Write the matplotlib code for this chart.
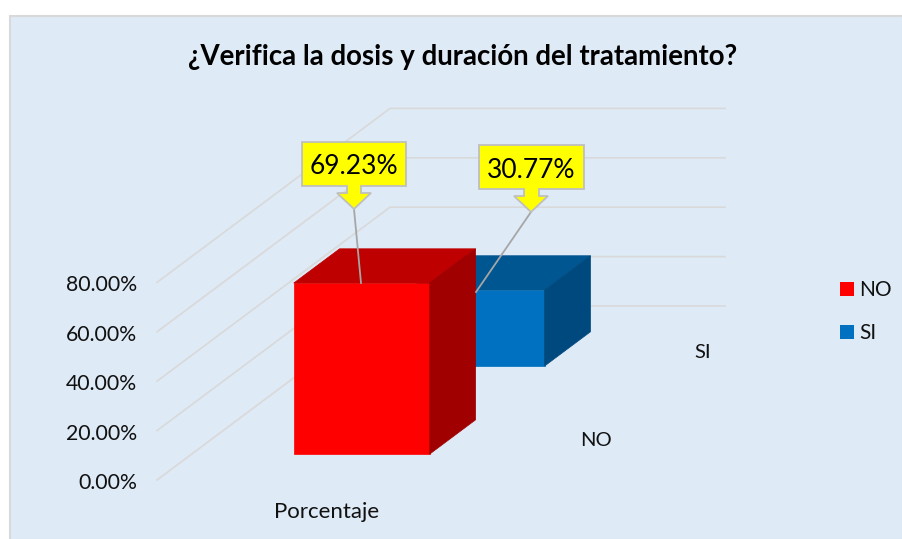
import matplotlib
matplotlib.use("Agg")
import matplotlib.pyplot as plt
from matplotlib.patches import Polygon, Patch

plt.rcParams['font.family'] = ['Lato', 'DejaVu Sans']

title = "¿Verifica la dosis y duración del tratamiento?"
series_names = ["NO", "SI"]
series_values = [69.23, 30.77]
series_labels = ["69.23%", "30.77%"]
y_ticks = [0, 20, 40, 60, 80]
y_tick_labels = ["0.00%", "20.00%", "40.00%", "60.00%", "80.00%"]
category = "Porcentaje"

# colours for front, top and side of each bar
faces = [("#FF0000", "#BE0000", "#A00000"), ("#0070C0", "#005691", "#00497E")]

# 3d box geometry, in pixels
FLOOR_X, FLOOR_Y = 157, 480
DEPTH_X, DEPTH_Y = 233, 174
FLOOR_W = 335
PX_PER_PCT = 2.47
BAR_X = [102, 99]
BAR_W = 136
BAR_Z = [0.149, 0.655]
BAR_D = 0.197


def project(x, v, z):
    return (FLOOR_X + x + DEPTH_X * z, FLOOR_Y - v * PX_PER_PCT - DEPTH_Y * z)


def draw_bar(ax, v, x0, z, cols):
    x1 = x0 + BAR_W
    z1 = z + BAR_D
    front = [project(x0, 0, z), project(x1, 0, z), project(x1, v, z), project(x0, v, z)]
    top = [project(x0, v, z), project(x1, v, z), project(x1, v, z1), project(x0, v, z1)]
    side = [project(x1, 0, z), project(x1, 0, z1), project(x1, v, z1), project(x1, v, z)]
    for pts, c in zip((front, top, side), cols):
        ax.add_patch(Polygon(pts, closed=True, facecolor=c, edgecolor=c, lw=0.5))


def draw_callout(ax, box, stem, head, tip, anchor, text):
    left, right, up, down = box
    pts = [(left, up), (right, up), (right, down), (stem[1], down), (stem[1], head[2]),
           (head[1], head[2]), tip, (head[0], head[2]), (stem[0], head[2]), (stem[0], down),
           (left, down)]
    ax.plot([tip[0], anchor[0]], [tip[1], anchor[1]], color="#A6A6A6", lw=1.3, zorder=5)
    ax.add_patch(Polygon(pts, closed=True, facecolor="#FFFF00", edgecolor="#BFBFBF", lw=1.3, zorder=6))
    ax.text((left + right) / 2, (up + down) / 2 + 3, text, ha="center", va="center",
            fontsize=19, color="black", zorder=7)


fig = plt.figure(figsize=(9.02, 5.39), dpi=100, facecolor="white")
ax = fig.add_axes([0, 0, 1, 1])
ax.set_xlim(0, 902)
ax.set_ylim(539, 0)
ax.axis("off")

# chart area
ax.add_patch(Polygon([(10, 16), (903, 16), (903, 540), (10, 540)], closed=True,
                     facecolor="#DEEAF6", edgecolor="#D9D9D9", lw=1.5))

ax.text(463, 57, title, ha="center", va="center", fontsize=19.9, fontweight="bold", color="black")

# gridlines
for t, lab in zip(y_ticks, y_tick_labels):
    a = project(0, t, 0)
    b = project(0, t, 1)
    c = project(FLOOR_W, t, 1)
    ax.plot([a[0], b[0], c[0]], [a[1], b[1], c[1]], color="#D9D9D9", lw=1.2, zorder=1)
    ax.text(137, a[1] + 3, lab, ha="right", va="center", fontsize=15.3, color="#111111")

# back bar first so the front one covers it
for i in [1, 0]:
    draw_bar(ax, series_values[i], BAR_X[i], BAR_Z[i], faces[i])

draw_callout(ax, (302, 406, 142, 186), (347, 361), (337, 371, 193), (354, 209), (361, 283), series_labels[0])
draw_callout(ax, (479, 584, 145, 189), (524, 539), (514, 548, 196), (531, 212), (476, 292), series_labels[1])

ax.text(327, 512, category, ha="center", va="center", fontsize=16, color="#111111")
ax.text(596, 440, series_names[0], ha="center", va="center", fontsize=14.5, color="#111111")
ax.text(703, 352, series_names[1], ha="center", va="center", fontsize=14.5, color="#111111")

handles = [Patch(facecolor=faces[i][0], label=series_names[i]) for i in range(2)]
ax.legend(handles=handles, loc="upper left", bbox_to_anchor=(833.5 / 902, 1 - 274 / 539), frameon=False,
          fontsize=15, handlelength=0.67, handleheight=0.67, handletextpad=0.25, labelspacing=1.09,
          borderpad=0.3, borderaxespad=0, labelcolor="#111111")

plt.savefig("out.png", dpi=100)
